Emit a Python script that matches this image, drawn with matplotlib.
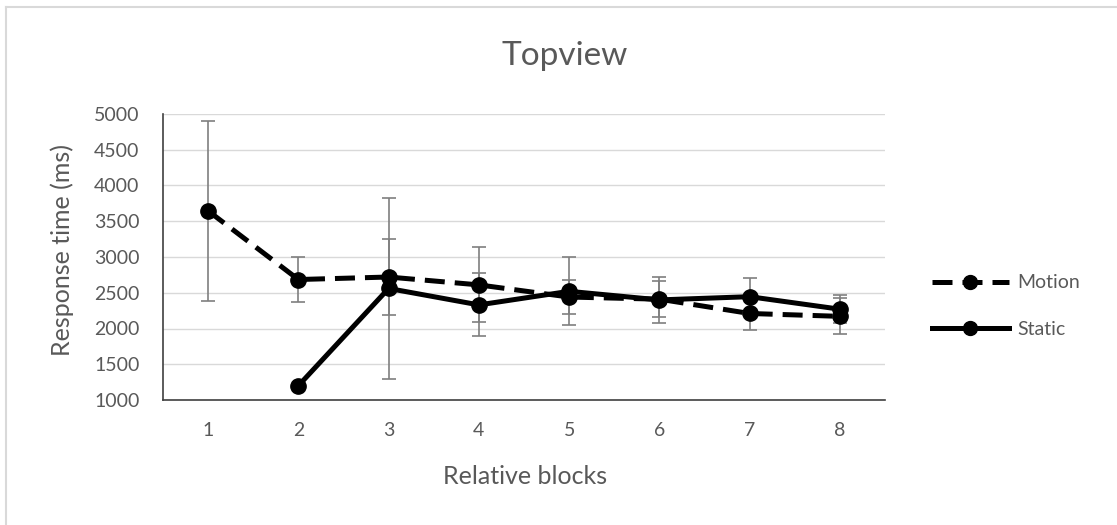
import numpy as np
import matplotlib
matplotlib.use("Agg")
import matplotlib.pyplot as plt
from matplotlib.lines import Line2D

plt.rcParams['font.family'] = ['Lato', 'DejaVu Sans']

blocks = [1, 2, 3, 4, 5, 6, 7, 8]
motion = [3645, 2685, 2720, 2610, 2440, 2410, 2210, 2170]
motion_err = [1260, 320, 525, 525, 237, 250, 233, 250]
static = [np.nan, 1200, 2560, 2330, 2520, 2400, 2445, 2270]
static_err = [np.nan, 0, 1260, 440, 474, 318, 265, 200]

W, H = 1117, 525
fig = plt.figure(figsize=(W / 100, H / 100), dpi=100)
ax = fig.add_axes([163 / W, 1 - 400 / H, (885 - 163) / W, (400 - 114) / H])

gray = '#595959'
err_col = '#7f7f7f'
dash = (0, (4, 2))

# error bars first so the lines sit on top
ax.errorbar(blocks, motion, yerr=motion_err, fmt='none', ecolor=err_col,
            elinewidth=1.2, capsize=5, capthick=1.2, zorder=2)
ax.errorbar(blocks, static, yerr=static_err, fmt='none', ecolor=err_col,
            elinewidth=1.2, capsize=5, capthick=1.2, zorder=2)

ax.plot(blocks, motion, color='black', lw=3.6, linestyle=dash,
        marker='o', markersize=11, zorder=3, label='Motion')
ax.plot(blocks, static, color='black', lw=3.6, linestyle='-',
        marker='o', markersize=11, zorder=3, label='Static')

ax.set_xlim(0.5, 8.5)
ax.set_ylim(1000, 5000)
ax.set_xticks(blocks)
ax.set_yticks(range(1000, 5001, 500))
ax.yaxis.grid(True, color='#d9d9d9', lw=1)
ax.set_axisbelow(True)
ax.tick_params(length=0, labelsize=14, colors=gray)
ax.tick_params(axis='y', pad=17)
ax.tick_params(axis='x', pad=16)
for s in ['top', 'right']:
    ax.spines[s].set_visible(False)
for s in ['left', 'bottom']:
    ax.spines[s].set_color('#404040')
    ax.spines[s].set_linewidth(1.2)

fig.text(525 / W, 1 - 476 / H, 'Relative blocks', fontsize=18, color=gray,
         ha='center', va='center')
fig.text(62 / W, 1 - 250 / H, 'Response time (ms)', fontsize=18, color=gray,
         ha='center', va='center', rotation=90)
fig.text(565 / W, 1 - 56 / H, 'Topview', fontsize=24, color=gray,
         ha='center', va='center')

handles = [
    Line2D([], [], color='black', lw=3.6, linestyle=dash,
           marker='o', markersize=10),
    Line2D([], [], color='black', lw=3.6, marker='o', markersize=10),
]
fig.legend(handles, ['Motion', 'Static'], loc='center left',
           bbox_to_anchor=(914 / W, 1 - 306 / H), frameon=False,
           fontsize=14, labelcolor=gray, handlelength=4.0,
           handletextpad=0.4, labelspacing=1.5)

# light frame around the chart area
fig.add_artist(Line2D([6 / W, 6 / W], [0, 1 - 7 / H], color='#d9d9d9', lw=1.5))
fig.add_artist(Line2D([6 / W, 1], [1 - 7 / H, 1 - 7 / H], color='#d9d9d9', lw=1.5))

fig.savefig('out.png', dpi=100, facecolor='white')
